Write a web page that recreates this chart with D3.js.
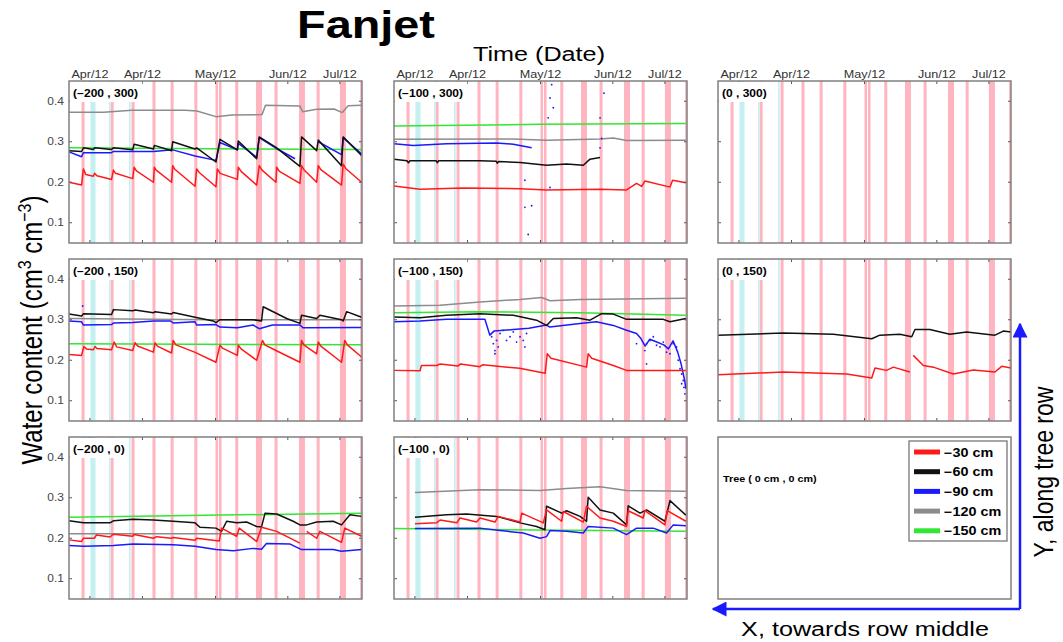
<!DOCTYPE html>
<html>
<head>
<meta charset="utf-8">
<script src="https://cdn.jsdelivr.net/npm/d3@7"></script>
<style>
  body { margin: 0; background: #fff; }
  svg { display: block; font-family: Arial, "Liberation Sans", sans-serif; }
</style>
</head>
<body>
<svg id="chart" width="1063" height="642"></svg>
<script>
// days since start of the record (x), volumetric water content (y)
const tickDays = [9, 31.6, 63, 94.1, 116.5]
const tickLabels = ['Apr/12', 'Apr/12', 'May/12', 'Jun/12', 'Jul/12']
const yTicks = [0.1, 0.2, 0.3, 0.4]

const irrigation = [[5.4,6.7],[17.9,19.2],[26.9,28.2],[35.9,37.2],[43.7,45],[53.9,55.2],[63,64.1],[64.5,65.6],[71.5,72.8],[80.4,83],[88.4,89.7],[98.9,101.5],[106.5,107.8],[116.5,119.1],[125.2,126]]
const rain = [[9.2,11.4],[17.2,17.8],[25.8,26.5]]

const depths = ['−30 cm', '−60 cm', '−90 cm', '−120 cm', '−150 cm']
const depthColors = ['#ff1a1a', '#111111', '#1a1aff', '#8c8c8c', '#33e633']

// (-200 , 300)
const a_red = [[0,.200],[5.4,.193],[6.2,.233],[7.2,.219],[10.5,.215],[11,.222],[12,.216],[18.3,.207],[19.1,.230],[20,.222],[27.4,.209],[28,.237],[29,.228],[36.3,.200],[36.7,.237],[37.5,.230],[44.1,.200],[44.6,.241],[45.5,.232],[54.2,.190],[54.9,.233],[56,.224],[63.2,.189],[63.8,.233],[65,.222],[72.4,.207],[72.8,.237],[74,.227],[80.7,.193],[81.8,.241],[83,.230],[89,.200],[89.3,.237],[90.5,.227],[99.3,.197],[100,.241],[101,.231],[106.5,.200],[107.2,.241],[108.3,.231],[117.2,.193],[117.9,.245],[119,.234],[125.8,.200]]
const a_black = [[0,.278],[5.4,.276],[6.2,.285],[10.5,.281],[11,.285],[18.3,.281],[19.1,.285],[27.4,.280],[28,.294],[36.3,.282],[36.7,.291],[44.1,.278],[44.6,.300],[54.2,.282],[54.9,.285],[63.2,.250],[64.9,.306],[72.4,.280],[72.8,.302],[80.7,.258],[81.8,.312],[89,.286],[99.3,.239],[100,.312],[106.5,.278],[107.2,.304],[117.2,.241],[117.9,.312],[125.8,.266]]
const a_blue = [[0,.275],[5.4,.263],[6.2,.273],[18.3,.273],[19.1,.276],[36.3,.276],[44.6,.280],[54.2,.265],[63.2,.254],[64.9,.298],[72.4,.280],[72.8,.296],[80.7,.262],[81.8,.310],[89,.284],[97.2,.258],[100,null],[107.2,.300],[117.2,.268],[117.9,.310],[125.8,.270]]
const a_gray = [[0,.373],[15,.373],[27,.378],[50,.378],[55,.376],[63.2,.362],[70,.366],[83,.367],[84.5,.390],[99.3,.388],[100.5,.374],[106.5,.380],[114,.381],[117.5,.372],[120,.389],[125.8,.390]]
const a_green = [[0,.285],[60,.283],[125.8,.281]]

// (-100 , 300)
const b_red = [[0,.191],[11.2,.183],[29.8,.186],[54.2,.184],[65.6,.181],[88.6,.183],[100,.181],[104.3,.197],[106.5,.190],[107.9,.203],[118.7,.188],[119.8,.205],[125.5,.199]]
const b_black = [[0,.257],[5.6,.253],[6.2,.248],[6.9,.253],[18.2,.253],[18.6,.248],[19.2,.253],[36.9,.253],[44,.252],[44.4,.247],[45,.251],[54.2,.249],[65.6,.242],[74.2,.245],[81.4,.242],[84.3,.257],[88.6,.261]]
const b_blue = [[0,.295],[8.3,.291],[22.6,.295],[44.1,.297],[51.3,.294],[59.2,.285]]
const b_gray = [[0,.306],[51.3,.307],[65.6,.304],[88.6,.307],[94.3,.309],[100,.303],[125.5,.304]]
const b_green = [[0,.339],[62.8,.343],[125.5,.345]]
const b_dots = [[67.8,.441],[67.1,.408],[66.3,.359],[68.5,.384],[88.6,.359],[90.3,.420],[89.3,.308],[56.3,.205],[56.3,.138],[59.2,.142],[57.7,.071],[67.1,.187],[88.6,.285]]

// (-200 , 150)
const d_red = [[0,.214],[5.4,.212],[6.4,.234],[7.5,.228],[10.5,.226],[11.2,.234],[12,.229],[18.3,.226],[19.4,.245],[20.5,.233],[27.4,.224],[28.4,.243],[29.5,.235],[36.3,.220],[37,.243],[38,.235],[44.1,.218],[44.8,.249],[46,.238],[54,.220],[63.2,.195],[64.9,.237],[66,.230],[72.4,.212],[72.8,.237],[74,.228],[80.7,.200],[83.2,.249],[84.2,.238],[89,.224],[99.3,.195],[100,.249],[101,.238],[106.5,.216],[107.2,.245],[108.3,.235],[117.2,.195],[118.6,.249],[119.7,.238],[125.8,.208]]
const d_black = [[0,.314],[5.4,.309],[6.2,.315],[18.3,.313],[19.1,.325],[27.4,.322],[28.4,.324],[36.3,.317],[37,.320],[44.1,.314],[44.8,.318],[54.2,.306],[62,.297],[63.2,.293],[64.9,.300],[72.4,.300],[79.2,.300],[82.8,.297],[83.5,.332],[93.6,.303],[99.3,.291],[100,.311],[106.5,.303],[107.9,.311],[117.2,.300],[117.9,.297],[119.4,.320],[125.8,.306]]
const d_blue = [[0,.297],[5.4,.295],[6.2,.287],[18.3,.288],[19.1,.292],[27.4,.293],[36.3,.297],[43.7,.297],[44.8,.292],[54.2,.295],[54.9,.287],[63.2,.288],[64.9,.282],[72.4,.280],[79.2,.287],[81.8,.278],[87.5,.287],[99.3,.287],[100.7,.280],[125.8,.281]]
const d_gray = [[0,.303],[60,.300],[125.8,.300]]
const d_green = [[0,.241],[125.8,.238]]
const d_dots = [[5.9,.334]]

// (-100 , 150)
const e_red = [[0,.175],[11.2,.174],[11.8,.187],[18.5,.187],[19.8,.191],[27.6,.186],[28.6,.191],[37,.184],[38.2,.189],[54,.180],[65,.168],[65.9,.216],[67.5,.205],[82.8,.183],[83.5,.216],[85,.205],[94.3,.187],[100,.175],[125.5,.175]]
const e_black = [[0,.307],[11.2,.305],[22.6,.311],[37,.315],[51.3,.311],[61.3,.299],[65.6,.286],[68.5,.303],[78.5,.305],[84.3,.299],[89.3,.315],[94.3,.314],[100,.301],[115.8,.301],[118.7,.295],[125.5,.303]]
const e_blue = [[0,.295],[11.2,.297],[22.6,.301],[39.1,.301],[41.2,.262],[43,.272],[51.3,.276],[58,.279],[65.6,.287],[67,.282],[80,.291],[87,.295],[94.3,.286],[100,.274],[104.3,.266],[106,.255],[108,.235],[110,.252],[113,.245],[116,.238],[118,.228],[120,.248],[122,.220],[123.5,.190],[125,.150],[125.5,.130]]
const e_gray = [[0,.334],[19.8,.336],[37,.344],[54.2,.350],[63.5,.355],[67.1,.347],[80,.350],[125.5,.353]]
const e_green = [[0,.317],[37,.320],[80,.317],[125.5,.311]]
const e_dots = [[42,.258],[42.7,.241],[43.4,.224],[44.1,.249],[44.8,.233],[45.6,.266],[47,.274],[48.4,.249],[49.9,.258],[51.3,.270],[52.7,.245],[54.2,.258],[55.6,.249],[56.3,.233],[57,.266],[43.4,.216],[107.9,.224],[108.6,.241],[110.1,.249],[111.5,.258],[112.9,.237],[114.4,.233],[115.8,.245],[117.2,.220],[118.7,.216],[120.1,.241],[121.5,.233],[122.2,.200],[123,.179],[123.7,.166],[124.4,.150],[124.7,.133],[125.1,.117],[123.7,.142],[108.6,.191],[104.3,.241]]

// (0 , 150)
const f_red = [[0,.164],[28.1,.171],[55.3,.166],[66.1,.156],[67.5,.181],[72.5,.175],[75.4,.183],[82.5,.171],[83.2,null],[84,.212],[88.3,.187],[92.6,.183],[101.2,.166],[109.8,.176],[119.1,.171],[122,.185],[126,.181]]
const f_black = [[0,.262],[28.1,.267],[49.6,.264],[66.1,.253],[69.6,.262],[78.2,.264],[83.3,.258],[84.7,.276],[91.1,.276],[99.7,.264],[106.9,.270],[119.1,.262],[122.7,.272],[126,.270]]

// (-200 , 0)
const g_red = [[0,.196],[5.4,.192],[6.2,.200],[10.9,.200],[11.8,.208],[17.6,.203],[19.1,.210],[27.4,.205],[28,.209],[36.3,.200],[37.7,.204],[44.1,.200],[44.8,.202],[54.2,.195],[54.9,.200],[64.6,.193],[65.6,.225],[72.1,.205],[73.2,.225],[80.7,.192],[82.8,.227],[89.3,.217],[99.3,.188],[100.5,null],[102.2,.217],[106.5,.200],[107.9,.217],[117.2,.190],[118.6,.225],[125.8,.205]]
const g_black = [[0,.243],[6.2,.238],[17.6,.238],[19.1,.243],[27.6,.247],[36.3,.245],[44.8,.242],[54.2,.238],[56.3,.227],[63.2,.225],[65.6,.217],[67.8,.242],[72.1,.238],[76.4,.240],[80.7,.229],[82.8,.228],[84.3,.262],[89.3,.260],[96.4,.242],[99.3,.233],[102.2,.233],[106.5,.240],[113.6,.242],[117.2,.233],[120.8,.258],[125.8,.254]]
const g_blue = [[0,.182],[6.2,.180],[19.1,.182],[27.6,.186],[44.8,.184],[54.2,.180],[63.2,.172],[70.7,.169],[79.2,.175],[82.8,.173],[84.9,.187],[94.9,.186],[100,.172],[113.6,.172],[117.2,.168],[125.8,.172]]
const g_gray = [[0,.211],[125.8,.211]]
const g_green = [[0,.252],[125.8,.262]]

// (-100 , 0)
const h_red = [[9,.236],[18.3,.238],[19.8,.245],[27,.238],[28.4,.250],[35.5,.240],[37,.250],[43.4,.240],[44.9,.254],[54.2,.240],[54.9,.262],[64.2,.238],[65.6,.270],[72.1,.242],[72.8,.266],[81.4,.240],[82.8,.279],[88.6,.250],[94.3,.242],[100,.229],[100.7,.268],[107.2,.250],[107.9,.268],[116.5,.233],[117.5,.268],[125.5,.242]]
const h_black = [[9,.252],[22.6,.258],[31.2,.260],[44.1,.254],[54.2,.238],[61.3,.229],[64.9,.221],[65.6,.279],[72.1,.262],[74.2,.268],[80,.254],[82.8,.242],[83.5,.301],[88.6,.270],[94.3,.262],[100,.233],[100.7,.280],[105.8,.262],[108.6,.270],[116.5,.242],[118.7,.293],[125.5,.257]]
const h_blue = [[9,.224],[37,.225],[45.6,.219],[55.6,.213],[62.8,.200],[65.6,.204],[67.1,.219],[74.2,.217],[81.4,.213],[83.5,.229],[94.3,.225],[100,.209],[104.3,.225],[111.5,.225],[117.2,.213],[120.1,.233],[125.5,.231]]
const h_gray = [[9,.313],[37,.320],[62.8,.318],[74.2,.323],[88.6,.327],[100,.318],[125.5,.316]]
const h_green = [[0,.224],[125.5,.217]]

const colX = [69, 394, 718]
const rowY = [81, 259, 437]
const pw = 293, ph = 162
const SX = 1.2   // the figure is stretched horizontally

const panels = [
	{col:0, row:0, label:'(−200 , 300)', series:[a_red, a_black, a_blue, a_gray, a_green], dots:[]},
	{col:1, row:0, label:'(−100 , 300)', series:[b_red, b_black, b_blue, b_gray, b_green], dots:b_dots},
	{col:2, row:0, label:'(0 , 300)', series:[], dots:[]},
	{col:0, row:1, label:'(−200 , 150)', series:[d_red, d_black, d_blue, d_gray, d_green], dots:d_dots},
	{col:1, row:1, label:'(−100 , 150)', series:[e_red, e_black, e_blue, e_gray, e_green], dots:e_dots},
	{col:2, row:1, label:'(0 , 150)', series:[f_red, f_black], dots:[]},
	{col:0, row:2, label:'(−200 , 0)', series:[g_red, g_black, g_blue, g_gray, g_green], dots:[]},
	{col:1, row:2, label:'(−100 , 0)', series:[h_red, h_black, h_blue, h_gray, h_green], dots:[]}
]

const svg = d3.select('#chart')

const stretchText = (sel, x, y, str, size, opts = {}) => {
	let t = sel.append('text')
	.attr('transform', `translate(${x},${y}) scale(${SX},1)` + (opts.rotate ? ' rotate(-90)' : ''))
	.attr('font-size', size)
	.attr('text-anchor', opts.anchor || 'start')
	.attr('font-weight', opts.bold ? 'bold' : 'normal')
	.attr('fill', opts.fill || '#000')
	.text(str)
	return t
}

panels.forEach(p => {

	let left = colX[p.col], top = rowY[p.row]

	let x = d3.scaleLinear().domain([0, 126]).range([left, left + pw])
	let y = d3.scaleLinear().domain([0.05, 0.45]).range([top + ph, top])

	let g = svg.append('g')

	g.selectAll('.pink')
	.data(irrigation)
	.enter()
	.append('rect')
	.attr('x', d => x(d[0]))
	.attr('width', d => x(d[1]) - x(d[0]))
	.attr('y', top)
	.attr('height', ph)
	.attr('fill', '#ffb5c0')

	g.selectAll('.cyan')
	.data(rain)
	.enter()
	.append('rect')
	.attr('x', d => x(d[0]))
	.attr('width', d => x(d[1]) - x(d[0]))
	.attr('y', top)
	.attr('height', ph)
	.attr('fill', '#c5eff0')

	const line = d3.line()
	.defined(d => d[1] != null)
	.x(d => x(d[0]))
	.y(d => y(d[1]))

	// deepest first so the shallow sensors sit on top
	p.series.map((s, i) => ({s, i})).reverse().forEach(({s, i}) => {
		g.append('path')
		.datum(s)
		.attr('d', line)
		.attr('fill', 'none')
		.attr('stroke', depthColors[i])
		.attr('stroke-width', 1.5)
		.attr('stroke-linejoin', 'round')
	})

	g.selectAll('.dot')
	.data(p.dots)
	.enter()
	.append('circle')
	.attr('cx', d => x(d[0]))
	.attr('cy', d => y(d[1]))
	.attr('r', 0.9)
	.attr('fill', '#1a1aff')

	// ticks inside the box
	tickDays.forEach(t => {
		g.append('line').attr('x1', x(t)).attr('x2', x(t)).attr('y1', top).attr('y2', top + 3).attr('stroke', '#555')
		g.append('line').attr('x1', x(t)).attr('x2', x(t)).attr('y1', top + ph).attr('y2', top + ph - 3).attr('stroke', '#555')
	})
	yTicks.forEach(t => {
		g.append('line').attr('x1', left).attr('x2', left + 3).attr('y1', y(t)).attr('y2', y(t)).attr('stroke', '#555')
		g.append('line').attr('x1', left + pw).attr('x2', left + pw - 3).attr('y1', y(t)).attr('y2', y(t)).attr('stroke', '#555')
	})

	if(p.row == 0) {
		tickDays.forEach((t, i) => {
			stretchText(g, x(t), top - 3, tickLabels[i], 10.5, {anchor:'middle', fill:'#333'})
		})
	}
	if(p.col == 0) {
		yTicks.forEach(t => {
			stretchText(g, left - 5, y(t) + 3.5, t.toFixed(1), 10, {anchor:'end', fill:'#444'})
		})
	}

	// label on a white box
	let lab = stretchText(g, left + 4, top + 16, p.label, 10, {bold:true})
	let bb = lab.node().getBBox()
	g.insert('rect', 'text')
	.attr('x', left + 1)
	.attr('y', top + 1)
	.attr('width', bb.width * SX + 7)
	.attr('height', 20)
	.attr('fill', '#fff')

	g.append('rect')
	.attr('x', left).attr('y', top).attr('width', pw).attr('height', ph)
	.attr('fill', 'none').attr('stroke', '#808080').attr('stroke-width', 1.5)
})

// tree panel with the legend
let tl = colX[2], tt = rowY[2]
svg.append('rect')
.attr('x', tl).attr('y', tt).attr('width', pw).attr('height', ph)
.attr('fill', '#fff').attr('stroke', '#808080').attr('stroke-width', 1.5)

stretchText(svg, tl + 5, tt + 45, 'Tree ( 0 cm , 0 cm)', 9, {bold:true})

let leg = svg.append('g')
leg.append('rect')
.attr('x', 909).attr('y', 441).attr('width', 98).attr('height', 100)
.attr('fill', '#fff').attr('stroke', '#777').attr('stroke-width', 1.3)

depths.forEach((d, i) => {
	let cy = 452 + i * 19.7
	leg.append('line')
	.attr('x1', 914).attr('x2', 940).attr('y1', cy).attr('y2', cy)
	.attr('stroke', depthColors[i]).attr('stroke-width', 5)
	stretchText(leg, 944, cy + 4.5, d, 12, {bold:true})
})

// direction arrows
svg.append('defs').append('marker')
.attr('id', 'head')
.attr('viewBox', '0 0 10 10')
.attr('refX', 9).attr('refY', 5)
.attr('markerWidth', 6).attr('markerHeight', 6)
.attr('markerUnits', 'strokeWidth')
.attr('orient', 'auto')
.append('path')
.attr('d', 'M0,0 L10,5 L0,10 Z')
.attr('fill', '#1a1aff')

svg.append('path')
.attr('d', 'M1020,609 L1020,324')
.attr('stroke', '#1a1aff').attr('stroke-width', 2.5).attr('fill', 'none')
.attr('marker-end', 'url(#head)')

svg.append('path')
.attr('d', 'M1020,609 L713,609')
.attr('stroke', '#1a1aff').attr('stroke-width', 2.5).attr('fill', 'none')
.attr('marker-end', 'url(#head)')

// titles
stretchText(svg, 366, 38, 'Fanjet', 39, {anchor:'middle', bold:true})
stretchText(svg, 539, 61, 'Time (Date)', 21, {anchor:'middle'})
stretchText(svg, 865, 636, 'X, towards row middle', 21, {anchor:'middle'})
stretchText(svg, 1053, 472, 'Y, along tree row', 23, {anchor:'middle', rotate:true})

let yl = stretchText(svg, 42, 330, 'Water content (cm', 24, {anchor:'middle', rotate:true})
yl.append('tspan').attr('font-size', 16).attr('baseline-shift', 'super').text('3')
yl.append('tspan').text(' cm')
yl.append('tspan').attr('font-size', 16).attr('baseline-shift', 'super').text('−3')
yl.append('tspan').text(')')
</script>
</body>
</html>
